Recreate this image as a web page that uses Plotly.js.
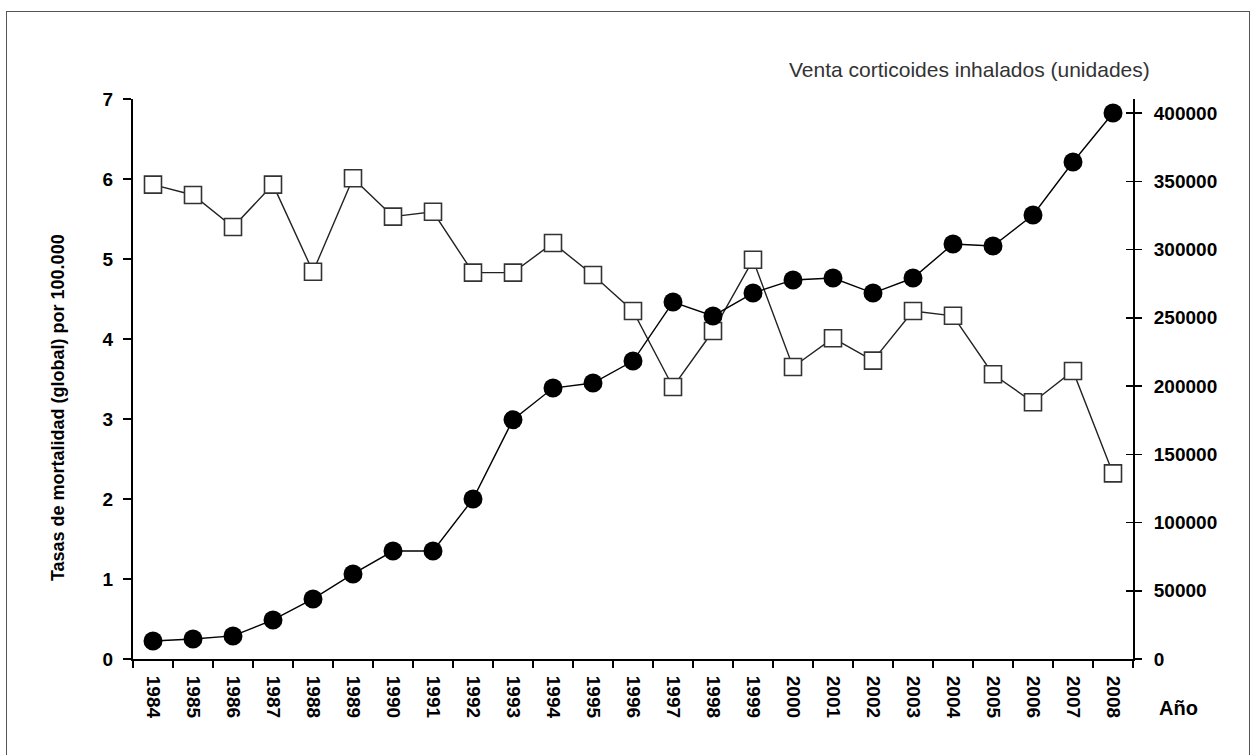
<!DOCTYPE html>
<html>
<head>
<meta charset="utf-8">
<script src="https://cdn.plot.ly/plotly-3.0.1.min.js"></script>
<style>
html,body{margin:0;padding:0;background:#fff;}
#wrap{position:relative;width:1251px;height:755px;overflow:hidden;}
#chart{width:1251px;height:755px;}
#frame{position:absolute;left:6px;top:11px;width:1242px;height:800px;border:1px solid #555;pointer-events:none;}
</style>
</head>
<body>
<div id="wrap"><div id="chart"></div><div id="frame"></div></div>
<script>
const years = ["1984","1985","1986","1987","1988","1989","1990","1991","1992","1993","1994","1995","1996","1997","1998","1999","2000","2001","2002","2003","2004","2005","2006","2007","2008"];
const mortalityRate = [5.93,5.8,5.4,5.93,4.84,6.01,5.53,5.59,4.83,4.83,5.2,4.8,4.35,3.4,4.1,4.99,3.65,4.01,3.73,4.35,4.29,3.56,3.21,3.6,2.32];
const corticoidSales = [13200,14700,16900,28600,44000,62300,79100,79100,117200,175300,198500,202200,218300,261500,251300,268100,277700,279100,268100,279100,304000,302600,325300,364100,400000];
const leftTitle = "Tasas de mortalidad (global) por 100.000";
const rightTitle = "Venta corticoides inhalados (unidades)";
const xTitle = "Año";

const FONT = "Liberation Sans, Arial, sans-serif";
const tickFont = {family: FONT, size: 19, color: "#000", weight: "bold"};

const traces = [
  {
    x: years, y: years.map(() => null), yaxis: "y3", xaxis: "x",
    type: "scatter", mode: "lines", hoverinfo: "none", showlegend: false
  },
  {
    x: years, y: mortalityRate, type: "scatter", mode: "lines+markers",
    yaxis: "y", xaxis: "x",
    line: {color: "#222", width: 1.4},
    marker: {symbol: "square", size: 17, color: "#fff", line: {color: "#333", width: 1.6}},
    cliponaxis: false, hoverinfo: "none"
  },
  {
    x: years, y: corticoidSales, type: "scatter", mode: "lines+markers",
    yaxis: "y2", xaxis: "x",
    line: {color: "#000", width: 1.4},
    marker: {symbol: "circle", size: 19, color: "#000", line: {width: 0}},
    cliponaxis: false, hoverinfo: "none"
  }
];

const rightMax = 400000 * 560 / 546;

const layout = {
  width: 1251, height: 755,
  margin: {l: 133, r: 118, t: 99, b: 96},
  paper_bgcolor: "#fff", plot_bgcolor: "#fff",
  showlegend: false,
  xaxis: {
    type: "category", tickson: "boundaries",
    range: [-0.5, years.length - 0.5], autorange: false,
    showgrid: false, zeroline: false,
    showline: true, linecolor: "#000", linewidth: 2,
    ticks: "outside", ticklen: 7, tickwidth: 1.5, tickcolor: "#000",
    tickangle: 90, tickfont: tickFont, ticklabelstandoff: 11
  },
  yaxis: {
    range: [0, 7], dtick: 1, tick0: 0,
    showgrid: false, zeroline: false,
    showline: true, linecolor: "#000", linewidth: 2,
    ticks: "outside", ticklen: 8, tickwidth: 1.5, tickcolor: "#000",
    tickfont: tickFont, ticklabelstandoff: 6
  },
  yaxis2: {
    overlaying: "y", side: "right",
    range: [0, rightMax], dtick: 50000, tick0: 0, tickformat: "d",
    showgrid: false, zeroline: false,
    showline: true, linecolor: "#000", linewidth: 2,
    ticks: "outside", ticklen: 7, tickwidth: 1.5, tickcolor: "#000",
    tickfont: tickFont, ticklabelstandoff: 8
  },
  yaxis3: {
    overlaying: "y", side: "right",
    range: [0, rightMax], dtick: 50000, tick0: 0,
    showgrid: false, zeroline: false, showline: false,
    ticks: "inside", ticklen: 7, tickwidth: 1.5, tickcolor: "#000",
    showticklabels: false
  },
  annotations: [
    {text: rightTitle, xref: "paper", yref: "paper", x: 1.019, y: 1.052,
     xanchor: "right", yanchor: "middle", showarrow: false,
     font: {family: FONT, size: 21, color: "#333"}},
    {text: xTitle, xref: "paper", yref: "paper", x: 1.045, y: -0.0875,
     xanchor: "center", yanchor: "middle", showarrow: false,
     font: {family: FONT, size: 20, color: "#000", weight: "bold"}},
    {text: leftTitle, xref: "paper", yref: "paper", x: -0.075, y: 0.448,
     xanchor: "center", yanchor: "middle", showarrow: false, textangle: -90,
     font: {family: FONT, size: 18, color: "#000", weight: "bold"}}
  ]
};

Plotly.newPlot("chart", traces, layout, {staticPlot: true, displayModeBar: false});
</script>
</body>
</html>
